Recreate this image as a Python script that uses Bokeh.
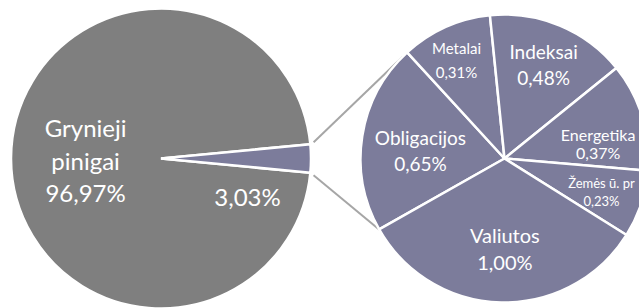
import math
from bokeh.plotting import figure
from bokeh.models import Range1d, ColumnDataSource
from bokeh.core.properties import value
from bokeh.embed import file_html
from bokeh.resources import INLINE

# ---------------- data ----------------
main_labels = ["Grynieji pinigai", "Kita"]
main_values = [96.97, 3.03]
sub_labels = ["Obligacijos", "Metalai", "Indeksai", "Energetika", "Žemės ū. pr", "Valiutos"]
sub_values = [0.65, 0.31, 0.48, 0.37, 0.23, 1.00]


def fmt(v):
    return f"{v:.2f}".replace(".", ",") + "%"


# ---------------- layout / style ----------------
W, H = 639, 308
C1 = (160.5, 150.0)   # main pie centre (data = pixel units, y up)
R1 = 150.0
C2 = (504.0, 150.0)   # secondary pie centre
R2 = 144.0
SUB_START_DEG = 209.5  # secondary pie starts here and runs clockwise
GREY = "#7f7f7f"
PURPLE = "#7c7c9b"
FONT = "Lato"

# per label: radial fraction, angle nudge (deg), font size (px), line gap (px)
sub_label_layout = [
    (0.586, 3.8, 19, 26),
    (0.761, 1.8, 15, 24),
    (0.706, 0.0, 19, 26),
    (0.659, -7.7, 16, 18),
    (0.712, -0.6, 13, 18),
    (0.625, 1.5, 20, 27),
]

p = figure(width=W, height=H, x_range=Range1d(0, W), y_range=Range1d(0, H),
           output_backend="svg", toolbar_location=None, min_border=0)
p.axis.visible = False
p.grid.visible = False
p.outline_line_color = None
p.background_fill_color = "white"
p.border_fill_color = "white"

# ---------------- main pie ----------------
total = sum(main_values)
half = math.pi * main_values[1] / total
p.wedge(x=[C1[0]] * 2, y=[C1[1]] * 2, radius=R1,
        start_angle=[half, -half], end_angle=[2 * math.pi - half, half],
        fill_color=[GREY, PURPLE], line_color="white", line_width=2.5)

# ---------------- connectors ----------------
def polar(c, r, deg):
    a = math.radians(deg)
    return c[0] + r * math.cos(a), c[1] + r * math.sin(a)

top0 = polar(C1, R1 + 3.5, 6.1)
bot0 = polar(C1, R1 + 3.5, -6.3)
top1 = polar(C2, R2, 135.0)
bot1 = polar(C2, R2, 209.7)
p.segment(x0=[top0[0], bot0[0]], y0=[top0[1], bot0[1]],
          x1=[top1[0], bot1[0]], y1=[top1[1], bot1[1]],
          line_color="#a6a6a6", line_width=2)

# ---------------- secondary pie ----------------
sub_total = sum(sub_values)
starts, ends, mids = [], [], []
cum = 0.0
for v in sub_values:
    a0 = math.radians(SUB_START_DEG) - cum / sub_total * 2 * math.pi
    cum += v
    a1 = math.radians(SUB_START_DEG) - cum / sub_total * 2 * math.pi
    starts.append(a1)
    ends.append(a0)
    mids.append((a0 + a1) / 2)

p.wedge(x=[C2[0]] * len(sub_values), y=[C2[1]] * len(sub_values), radius=R2,
        start_angle=starts, end_angle=ends,
        fill_color=PURPLE, line_color="white", line_width=2.5)

# ---------------- labels ----------------
tx, ty, tt, ts = [], [], [], []
for lab, v, m, (fr, dang, size, gap) in zip(sub_labels, sub_values, mids, sub_label_layout):
    a = m + math.radians(dang)
    cx = C2[0] + fr * R2 * math.cos(a)
    cy = C2[1] + fr * R2 * math.sin(a)
    tx += [cx, cx]
    ty += [cy + gap / 2, cy - gap / 2]
    tt += [lab, fmt(v)]
    ts += [f"{size}px", f"{size}px"]

# main pie labels
gx = C1[0] + 0.503 * R1 * math.cos(math.radians(181.5))
gy = C1[1] + 0.503 * R1 * math.sin(math.radians(181.5))
words = main_labels[0].split(" ")
lines = words + [fmt(main_values[0])]
gap = 32.5
for i, ln in enumerate(lines):
    tx.append(gx)
    ty.append(gy + gap - i * gap)
    tt.append(ln)
    ts.append("24px")

ox = C1[0] + 0.63 * R1 * math.cos(math.radians(-23.7))
oy = C1[1] + 0.63 * R1 * math.sin(math.radians(-23.7))
tx.append(ox)
ty.append(oy)
tt.append(fmt(main_values[1]))
ts.append("24px")

src = ColumnDataSource(dict(x=tx, y=ty, text=tt, size=ts))
p.text(x="x", y="y", text="text", source=src, text_font_size="size",
       text_align="center", text_baseline="middle",
       text_font=value(FONT), text_color="white")

open("out.html", "w").write(file_html(p, INLINE))
